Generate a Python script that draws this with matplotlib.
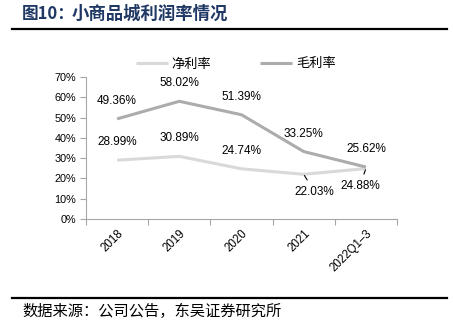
import matplotlib
matplotlib.use("Agg")
import matplotlib.pyplot as plt
from matplotlib.lines import Line2D

plt.rcParams['font.family'] = ['Liberation Sans', 'Noto Sans CJK SC', 'DejaVu Sans']

categories = ["2018", "2019", "2020", "2021", "2022Q1–3"]
net_margin = [28.99, 30.89, 24.74, 22.03, 24.88]
gross_margin = [49.36, 58.02, 51.39, 33.25, 25.62]
y_ticks = [0, 10, 20, 30, 40, 50, 60, 70]

W, H = 453, 329
fig = plt.figure(figsize=(W / 100, H / 100), dpi=100)
fig.patch.set_facecolor("white")

def fx(px):
    return px / W

def fy(py):
    return 1 - py / H

# header and footer
fig.text(fx(22), fy(14), "图10：", fontsize=12, fontweight="bold", color="#203864",
         family=["Noto Sans CJK SC"], va="center", ha="left")
fig.text(fx(72), fy(14), "小商品城利润率情况", fontsize=12.5, fontweight="bold", color="#203864",
         family=["Noto Sans CJK SC"], va="center", ha="left")
fig.add_artist(Line2D([fx(12), fx(447)], [fy(29), fy(29)], color="black", lw=1.6))
fig.add_artist(Line2D([fx(12), fx(447)], [fy(298), fy(298)], color="black", lw=1.6))
fig.text(fx(22), fy(311), "数据来源：公司公告，东吴证券研究所", fontsize=11, color="black",
         family=["Noto Sans CJK SC"], va="center", ha="left")

ax = fig.add_axes([fx(86), fy(219), fx(397) - fx(86), fy(77) - fy(219)])
x = list(range(len(categories)))
c_net = "#d9d9d9"
c_gross = "#acacac"
ax.plot(x, net_margin, color=c_net, lw=2.2, solid_capstyle="butt", label="净利率", zorder=3)
ax.plot(x, gross_margin, color=c_gross, lw=2.2, solid_capstyle="butt", label="毛利率", zorder=3)

ax.set_xlim(-0.5, len(categories) - 0.5)
ax.set_ylim(0, 70)
ax.set_yticks(y_ticks)
ax.set_yticklabels([f"{v}%" for v in y_ticks], fontsize=7.8)
ax.set_xticks([i - 0.5 for i in range(len(categories) + 1)])
ax.set_xticklabels([])
ax.set_xticks(x, minor=True)
ax.set_xticklabels(categories, minor=True, rotation=45, ha="right", va="top",
                   rotation_mode="anchor", fontsize=8.3)
ax.tick_params(axis="x", which="minor", length=0, pad=6)
ax.tick_params(axis="x", which="major", length=4, color="#a6a6a6", direction="out")
ax.tick_params(axis="y", length=4, color="#a6a6a6", direction="out", pad=3)
for s in ["top", "right"]:
    ax.spines[s].set_visible(False)
for s in ["left", "bottom"]:
    ax.spines[s].set_color("#a6a6a6")
    ax.spines[s].set_linewidth(0.8)
ax.set_facecolor("none")

# data labels
lab_kw = dict(fontsize=8.5, ha="center", va="center", color="black", zorder=4)
for i, v in enumerate(gross_margin):
    ax.annotate(f"{v:.2f}%", (i, v), xytext=(0, 18), textcoords="offset pixels", **lab_kw)
for i, v in enumerate(net_margin[:3]):
    ax.annotate(f"{v:.2f}%", (i, v), xytext=(0, 18), textcoords="offset pixels", **lab_kw)
ax.annotate(f"{net_margin[3]:.2f}%", (3, net_margin[3]), xytext=(11, -18), textcoords="offset pixels",
            arrowprops=dict(arrowstyle="-", color="black", lw=0.8, shrinkA=3, shrinkB=1), **lab_kw)
ax.annotate(f"{net_margin[4]:.2f}%", (4, net_margin[4]), xytext=(-6, -17), textcoords="offset pixels",
            arrowprops=dict(arrowstyle="-", color="black", lw=0.8, shrinkA=2, shrinkB=1), **lab_kw)

fig.legend(loc="center", bbox_to_anchor=(fx(236), fy(64)), ncol=2, frameon=False,
           prop={"family": ["Noto Sans CJK SC"], "size": 9.5}, handlelength=2.4,
           handletextpad=0.3, columnspacing=3.7, borderaxespad=0)

fig.savefig("out.png", dpi=100, facecolor="white")
